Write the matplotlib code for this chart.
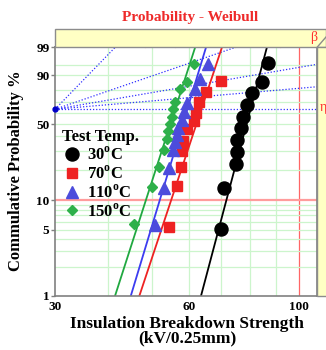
import numpy as np
import matplotlib
matplotlib.use('Agg')
import matplotlib.pyplot as plt
import matplotlib.transforms as mtransforms
from matplotlib.patches import Rectangle

plt.rcParams['font.family'] = 'Liberation Serif'
plt.rcParams['font.weight'] = 'bold'
plt.rcParams['mathtext.fontset'] = 'custom'
plt.rcParams['mathtext.rm'] = 'Liberation Serif:bold'
plt.rcParams['mathtext.bf'] = 'Liberation Serif:bold'

# breakdown strength (kV/0.25mm) and cumulative probability (%)
v30 = [69.8, 70.9, 75.0, 75.2, 75.4, 76.6, 77.6, 78.8, 80.6, 84.5, 87.1]
f30 = [5.1, 13.4, 22.8, 29.6, 37.4, 46.7, 56.2, 67.0, 77.3, 85.7, 95.5]
v70 = [54.5, 56.5, 57.7, 57.9, 58.4, 59.4, 61.6, 62.0, 63.0, 65.1, 69.9]
f70 = [5.35, 14.0, 21.2, 30.0, 36.8, 45.6, 52.9, 60.0, 70.0, 78.1, 86.5]
v110 = [50.8, 53.2, 54.5, 55.6, 56.1, 56.5, 57.0, 57.9, 58.65, 59.3, 61.8, 63.3, 65.8]
f110 = [5.6, 13.4, 21.0, 30.6, 36.1, 41.1, 46.4, 53.5, 60.9, 68.6, 80.5, 87.7, 95.3]
v150 = [45.8, 50.0, 51.9, 53.2, 53.8, 54.25, 54.7, 55.2, 55.6, 56.1, 57.4, 59.3, 61.5]
f150 = [5.7, 13.5, 21.5, 30.6, 37.9, 44.5, 50.0, 56.4, 63.2, 70.0, 80.5, 85.7, 95.3]

labels = ['30', '70', '110', '150']
# fitted weibull lines: strength at 1% and at 99%
fit_lo = [63.6, 47.0, 45.0, 41.5]
fit_hi = [86.5, 70.2, 65.1, 61.8]

beta_ticks = [6.0, 4.0, 3.0, 2.0, 1.6]
beta_lines = [6.0, 2.0, 1.0, 0.5, 0.0]

y_ticks = [1, 5, 10, 50, 90, 99]
y_grid = [2, 3, 4, 5, 6, 7, 8, 9, 20, 30, 40, 50, 60, 70, 80, 90, 95]
x_ticks = [30, 60, 100]
x_grid = [40, 50, 60, 70, 80, 90]

XMIN, XMAX = 30, 108.5
XOFF = 12.0
K = 1.053


def xf(x):
    return np.log(np.maximum(np.asarray(x, float) + XOFF, 1e-9))


def xi(u):
    return np.exp(u) - XOFF


def yf(p):
    p = np.clip(np.asarray(p, float), 1e-6, 100 - 1e-6)
    return np.log(-np.log(1 - p / 100.0))


def yi(w):
    return 100 * (1 - np.exp(-np.exp(w)))


W, H = 326, 350
fig = plt.figure(figsize=(W / 100, H / 100), dpi=100)
ax = fig.add_axes([55 / W, 1 - 295.5 / H, 262 / W, 248.1 / H])
ax.set_xscale('function', functions=(xf, xi))
ax.set_yscale('function', functions=(yf, yi))
ax.set_xlim(XMIN, XMAX)
ax.set_ylim(1, 99)

# yellow frame (top band + right strip)
fig.patches.append(Rectangle((55 / W, 1 - 47.4 / H), (W - 55) / W, 18.4 / H,
                             transform=fig.transFigure, facecolor='#ffffc4',
                             edgecolor='#8c8c8c', lw=1.0, zorder=0))
fig.patches.append(Rectangle((317 / W, 1 - 295.5 / H), 10 / W, 248.1 / H,
                             transform=fig.transFigure, facecolor='#ffffc4',
                             edgecolor='#8c8c8c', lw=1.0, zorder=0))
fig.lines.append(plt.Line2D([317 / W, 326 / W], [1 - 47.4 / H, 1 - 37 / H],
                            transform=fig.transFigure, color='#8c8c8c', lw=1.0))

# grid
for g in x_grid:
    ax.axvline(g, color='#ccf5cc', lw=0.9, zorder=0)
ax.axvline(100, color='#ff6666', lw=0.9, zorder=0)
for g in y_grid:
    ax.axhline(g, color='#ccf5cc', lw=0.9, zorder=0)
ax.axhline(10, color='#ff9c9c', lw=1.6, zorder=0)

# beta estimation lines from the pivot at 63.2%
u0 = xf(XMIN)
u_right = xf(XMAX)
w_top = yf(99)
for b in beta_lines:
    if b == 0:
        x_end, p_end = XMAX, yi(0)
    elif u0 + w_top / (K * b) <= u_right:
        x_end, p_end = xi(u0 + w_top / (K * b)), 99
    else:
        x_end, p_end = XMAX, yi(K * b * (u_right - u0))
    ax.plot([XMIN, x_end], [yi(0), p_end], ls=(0, (1, 1.5)), color='#2f2fff',
            lw=0.9, zorder=1)
ax.plot([XMIN], [yi(0)], 'o', ms=3.5, color='#0000c8', clip_on=False, zorder=6)

blend = mtransforms.blended_transform_factory(ax.transData, ax.transAxes)
for b in beta_ticks:
    xb = xi(u0 + w_top / (K * b))
    ax.plot([xb, xb], [1.0, 1.014], color='#ff4040', lw=0.8, transform=blend,
            clip_on=False)
    ax.text(xb, 1.045, '%.1f' % b, transform=blend, rotation=90, fontsize=6,
            color='#ff3030', ha='center', va='center')
fig.text(314 / W, 1 - 37 / H, 'β', color='#ff3030', fontsize=10,
         fontweight='normal', ha='center', va='center')
fig.text(320 / W, 1 - 108 / H, 'η', color='#ff3030', fontsize=10,
         fontweight='normal', ha='left', va='center')

# data and fits
series = [(v30, f30, 'black', 'o', 9.4, 'black'),
          (v70, f70, '#ee2222', 's', 7.2, '#ee2222'),
          (v110, f110, '#4c4cdc', '^', 8.5, '#3c3cf0'),
          (v150, f150, '#2eb04a', 'D', 5.4, '#20a840')]
handles = []
for i, (v, f, c, m, ms, lc) in enumerate(series):
    ax.plot([fit_lo[i], fit_hi[i]], [1, 99], color=lc, lw=1.3, zorder=2)
    h, = ax.plot(v, f, m, ms=ms, color=c, mec=c, ls='none', zorder=4 + i * 0.1,
                 label=labels[i] + r'$^{\mathrm{o}}$C')
    handles.append(h)

leg = ax.legend(handles=handles, title='Test Temp.', loc='upper left',
                bbox_to_anchor=(0.028, 0.67), frameon=False, fontsize=12,
                title_fontsize=12, handlelength=1.2, handletextpad=0.25,
                labelspacing=0.08, borderpad=0, borderaxespad=0,
                alignment='left')
leg.set_zorder(7)

# axes styling
for s in ax.spines.values():
    s.set_color('#808080')
    s.set_linewidth(1.2)
ax.set_yticks(y_ticks)
ax.set_yticklabels([str(t) for t in y_ticks])
ax.set_xticks(x_ticks)
ax.set_xticklabels([str(t) for t in x_ticks])
ax.minorticks_off()
ax.tick_params(axis='y', length=3, width=1, color='#808080', labelsize=9.5, pad=1)
ax.tick_params(axis='x', length=0, labelsize=9.5, pad=4)

fig.text(190 / W, 1 - 18 / H, 'Probability - Weibull', color='#ee2a2a',
         fontsize=11, ha='center', va='center')
fig.text(16 / W, 1 - 171 / H, 'Commulative Probability %', rotation=90,
         fontsize=12, ha='center', va='center')
fig.text(187 / W, 1 - 331 / H, 'Insulation Breakdown Strength\n(kV/0.25mm)',
         fontsize=12.5, ha='center', va='center', linespacing=0.9)

fig.savefig('out.png', dpi=100)
